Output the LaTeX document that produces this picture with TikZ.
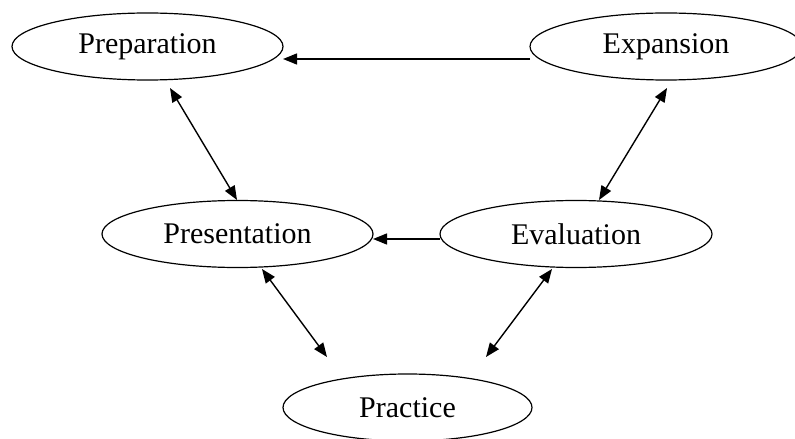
\documentclass[tikz,border=0pt]{standalone}
\usepackage{fontspec}
\setmainfont{Liberation Serif}
\usetikzlibrary{shapes.geometric,arrows.meta}
\begin{document}
\begin{tikzpicture}[x=0.5pt,y=-0.5pt,
  stage/.style={draw,ellipse,line width=0.6pt,inner sep=0pt,minimum height=33.5pt,font=\fontsize{15}{18}\selectfont},
  conn/.style={line width=0.7pt,-{Triangle[length=7pt,width=5.5pt]}},
  biconn/.style={line width=0.7pt,{Triangle[length=7pt,width=5.5pt]}-{Triangle[length=7pt,width=5.5pt]}}]
\useasboundingbox (0,0) rectangle (795,438);
\begin{scope}
\clip (0,0) rectangle (795,438);
\node[stage,minimum width=135.5pt] (prep) at (147.5,46.5) {Preparation};
\node[stage,minimum width=136pt] (exp) at (666,46.5) {Expansion};
\node[stage,minimum width=135.5pt] (pres) at (237.5,234) {Presentation};
\node[stage,minimum width=136pt] (eval) at (576,234) {Evaluation};
\node[stage,minimum width=124.5pt] (prac) at (407.5,407.5) {Practice};
\end{scope}
% arrow end points
\coordinate (e1a) at (530,59);   \coordinate (e1b) at (283,59);
\coordinate (e2a) at (170,88);   \coordinate (e2b) at (237,200);
\coordinate (e3a) at (667,88);   \coordinate (e3b) at (599,200);
\coordinate (e4a) at (440,239);  \coordinate (e4b) at (373,239);
\coordinate (e5a) at (262,269);  \coordinate (e5b) at (327,357);
\coordinate (e6a) at (552,269);  \coordinate (e6b) at (486,357);
\draw[conn] (e1a) -- (e1b);
\draw[biconn] (e2a) -- (e2b);
\draw[biconn] (e3a) -- (e3b);
\draw[conn] (e4a) -- (e4b);
\draw[biconn] (e5a) -- (e5b);
\draw[biconn] (e6a) -- (e6b);
\end{tikzpicture}
\end{document}
